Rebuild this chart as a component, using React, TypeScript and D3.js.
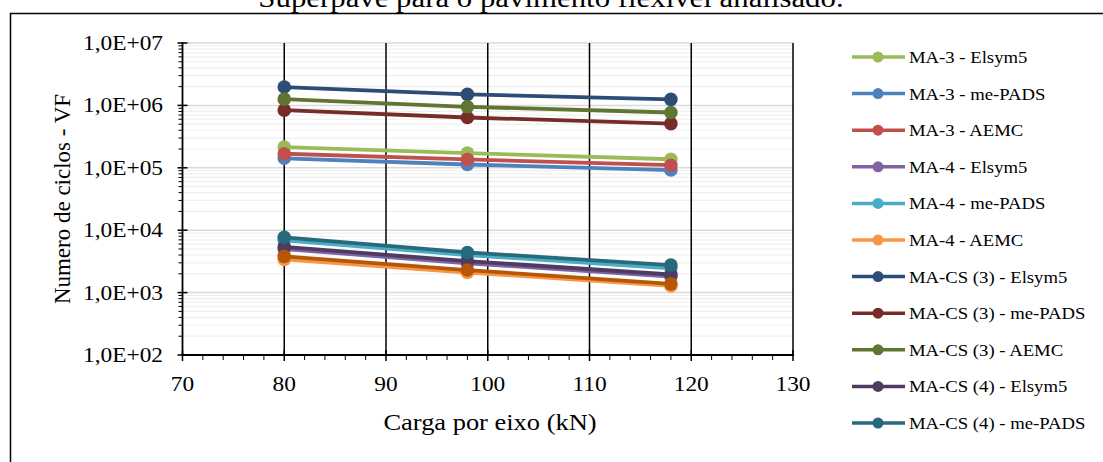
import React from 'react';
import * as d3 from 'd3';

// Data
const cargas = [80, 98, 118];

const seriesNames = [
    'MA-3 - Elsym5',
    'MA-3 - me-PADS',
    'MA-3 - AEMC',
    'MA-4 - Elsym5',
    'MA-4 - me-PADS',
    'MA-4 - AEMC',
    'MA-CS (3) - Elsym5',
    'MA-CS (3) - me-PADS',
    'MA-CS (3) - AEMC',
    'MA-CS (4) - Elsym5',
    'MA-CS (4) - me-PADS',
    'MA-CS (4) - AEMC',
];

const seriesColors = [
    '#9BBB59', '#4F81BD', '#C0504D', '#8064A2', '#4BACC6', '#F79646',
    '#2C4D75', '#772C2A', '#5F7530', '#4D3B62', '#276A7C', '#B65708',
];

const ma3Elsym5 = [2.15e5, 1.72e5, 1.37e5];
const ma3MePads = [1.42e5, 1.13e5, 9.2e4];
const ma3Aemc = [1.68e5, 1.36e5, 1.1e5];
const ma4Elsym5 = [5.0e3, 2.95e3, 1.8e3];
const ma4MePads = [6.9e3, 4.0e3, 2.45e3];
const ma4Aemc = [3.4e3, 2.1e3, 1.28e3];
const cs3Elsym5 = [1.97e6, 1.5e6, 1.25e6];
const cs3MePads = [8.4e5, 6.4e5, 5.1e5];
const cs3Aemc = [1.26e6, 9.5e5, 7.7e5];
const cs4Elsym5 = [5.4e3, 3.2e3, 1.95e3];
const cs4MePads = [7.7e3, 4.4e3, 2.76e3];
const cs4Aemc = [3.8e3, 2.3e3, 1.38e3];

const seriesValues = [
    ma3Elsym5, ma3MePads, ma3Aemc, ma4Elsym5, ma4MePads, ma4Aemc,
    cs3Elsym5, cs3MePads, cs3Aemc, cs4Elsym5, cs4MePads, cs4Aemc,
];

const xTicks = [70, 80, 90, 100, 110, 120, 130];
const yTicks = [1e2, 1e3, 1e4, 1e5, 1e6, 1e7];
const yTickLabels = ['1,0E+02', '1,0E+03', '1,0E+04', '1,0E+05', '1,0E+06', '1,0E+07'];

const FONT = '"Liberation Serif", "Times New Roman", serif';

// stretched text (the original picture is a bit wider than tall)
const SText = ({ x, y, size, anchor = 'start', sx = 1.14, rotate = 0, children }: any) => (
    <text
        transform={`translate(${x},${y}) rotate(${rotate}) scale(${rotate ? 1 : sx},${rotate ? sx : 1})`}
        fontFamily={FONT}
        fontSize={size}
        textAnchor={anchor}
        fill="#000"
    >
        {children}
    </text>
);

const App = () => {
    const width = 1103;
    const height = 462;
    const plot = { left: 182.5, right: 793, top: 43, bottom: 355 };

    const xScale = d3.scaleLinear().domain([70, 130]).range([plot.left, plot.right]);
    const yScale = d3.scaleLog().domain([1e2, 1e7]).range([plot.bottom, plot.top]);

    const minorY: number[] = [];
    yTicks.slice(0, -1).forEach(t => {
        for (let k = 2; k <= 9; k++) minorY.push(t * k);
    });
    const minorX = d3.range(70, 131, 2).filter(v => v % 10 !== 0);

    const line = d3.line<number>()
        .x((d, i) => xScale(cargas[i]))
        .y(d => yScale(d));

    const legendX = 852;
    const legendY0 = 57;
    const legendStep = 36.6;
    const legendItems = seriesNames
        .map((name, i) => ({ name, color: seriesColors[i], y: legendY0 + i * legendStep }))
        .filter(d => d.y < 445);

    return (
        <svg width={width} height={height} style={{ position: 'absolute', left: 0, top: 0, background: '#fff' }}>
            {/* title (cut off at the top, as in the source) */}
            <SText x={551} y={7} size={26.8} anchor="middle" sx={1.15}>
                Superpave para o pavimento flexível analisado.
            </SText>

            {/* chart border */}
            <rect x={10.5} y={13.5} width={1100} height={460} fill="#fff" stroke="#000" strokeWidth={1.5} />

            {/* minor horizontal grid */}
            {minorY.map((v, i) => (
                <line key={'mg' + i} x1={plot.left} x2={plot.right} y1={yScale(v)} y2={yScale(v)} stroke="#efefef" strokeWidth={1.2} />
            ))}
            {/* major horizontal grid */}
            {yTicks.slice(1).map((v, i) => (
                <line key={'Mg' + i} x1={plot.left} x2={plot.right} y1={yScale(v)} y2={yScale(v)} stroke="#d9d9d9" strokeWidth={1.5} />
            ))}
            {/* vertical grid */}
            {xTicks.slice(1).map((v, i) => (
                <line key={'vg' + i} x1={xScale(v)} x2={xScale(v)} y1={plot.top} y2={plot.bottom} stroke="#000" strokeWidth={1.5} />
            ))}

            {/* y axis */}
            <line x1={plot.left} x2={plot.left} y1={plot.top - 1} y2={plot.bottom + 1} stroke="#000" strokeWidth={1.8} />
            {yTicks.map((v, i) => (
                <line key={'yt' + i} x1={plot.left - 5} x2={plot.left + 5} y1={yScale(v)} y2={yScale(v)} stroke="#000" strokeWidth={1.5} />
            ))}
            {minorY.map((v, i) => (
                <line key={'ym' + i} x1={plot.left - 4} x2={plot.left} y1={yScale(v)} y2={yScale(v)} stroke="#000" strokeWidth={1} />
            ))}
            {yTicks.map((v, i) => (
                <SText key={'yl' + i} x={163} y={yScale(v) + 7} size={20.5} anchor="end">
                    {yTickLabels[i]}
                </SText>
            ))}

            {/* x axis */}
            <line x1={plot.left - 1} x2={plot.right + 1} y1={plot.bottom} y2={plot.bottom} stroke="#000" strokeWidth={1.8} />
            {xTicks.map((v, i) => (
                <line key={'xt' + i} x1={xScale(v)} x2={xScale(v)} y1={plot.bottom - 5} y2={plot.bottom + 6} stroke="#000" strokeWidth={1.5} />
            ))}
            {minorX.map((v, i) => (
                <line key={'xm' + i} x1={xScale(v)} x2={xScale(v)} y1={plot.bottom} y2={plot.bottom + 5} stroke="#000" strokeWidth={1} />
            ))}
            {xTicks.map((v, i) => (
                <SText key={'xl' + i} x={xScale(v)} y={391} size={20.5} anchor="middle">
                    {v}
                </SText>
            ))}

            {/* axis titles */}
            <SText x={490} y={430} size={23} anchor="middle" sx={1.15}>Carga por eixo (kN)</SText>
            <SText x={70} y={(plot.top + plot.bottom) / 2} size={23} anchor="middle" rotate={-90} sx={0.97}>
                Numero de ciclos - VF
            </SText>

            {/* series */}
            {seriesValues.map((vals, s) => (
                <g key={'s' + s}>
                    <path d={line(vals) || ''} fill="none" stroke={seriesColors[s]} strokeWidth={3.8} strokeLinejoin="round" />
                    {vals.map((v, i) => (
                        <circle key={i} cx={xScale(cargas[i])} cy={yScale(v)} r={6.8} fill={seriesColors[s]} />
                    ))}
                </g>
            ))}

            {/* legend */}
            {legendItems.map((d, i) => (
                <g key={'lg' + i}>
                    <line x1={legendX} x2={legendX + 53} y1={d.y} y2={d.y} stroke={d.color} strokeWidth={3.5} />
                    <circle cx={legendX + 26} cy={d.y} r={5.5} fill={d.color} />
                    <SText x={legendX + 57} y={d.y + 6} size={17} sx={1.1}>{d.name}</SText>
                </g>
            ))}
        </svg>
    );
};

export default App;
